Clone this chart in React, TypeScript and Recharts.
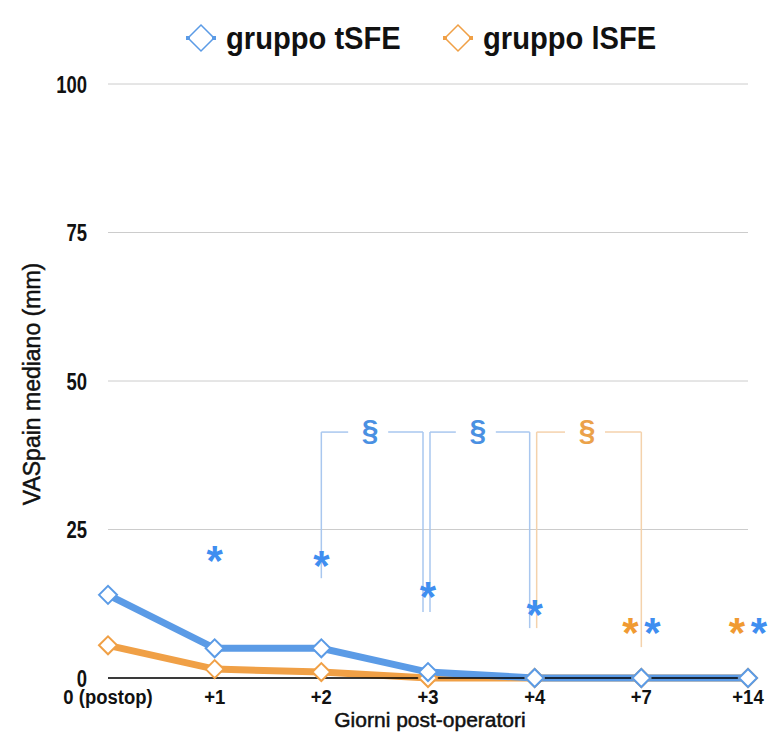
import React from 'react';
import {
  ComposedChart,
  Line,
  XAxis,
  YAxis,
  CartesianGrid,
  Legend,
  ReferenceLine,
  ReferenceDot,
} from 'recharts';

// Giorni post-operatori (categorie asse x)
const days = ['0 (postop)', '+1', '+2', '+3', '+4', '+7', '+14'];

// VAS mediano (mm) per gruppo
const tSFE = [14, 5, 5, 1, 0, 0, 0];
const lSFE = [5.5, 1.5, 1, 0, 0, 0, 0];

// altezza degli asterischi (significatività vs postop)
const tSFEStars = [null, 20.7, 19.9, 14.6, 11.6, 8.6, 8.6];
const lSFEStars = [null, null, null, null, null, 8.6, 8.6];

// parentesi § tra giorni consecutivi
const brackets = [
  { from: '+2', to: '+3', level: 41.4, fromEnd: 16.8, toEnd: 11.1, group: 't' },
  { from: '+3', to: '+4', level: 41.4, fromEnd: 11.1, toEnd: 8.4, group: 't' },
  { from: '+4', to: '+7', level: 41.4, fromEnd: 8.4, toEnd: 5.2, group: 'l' },
];

const yTicks = [0, 25, 50, 75, 100];

const data = days.map((day, i) => ({ day, tSFE: tSFE[i], lSFE: lSFE[i] }));

const SANS = "'Liberation Sans', Arial, sans-serif";

const BLUE = '#5b9be6';
const ORANGE = '#f0a046';
const BLUE_STAR = '#3f8ef0';
const ORANGE_STAR = '#f09a32';
const BLUE_SEC = '#4a90e2';
const ORANGE_SEC = '#eba24a';
const BLUE_BRK = '#a9c7ef';
const ORANGE_BRK = '#f4d2ac';

const Diamond = (color: string) => (props: any) => {
  const { cx, cy, index } = props;
  if (cx == null || cy == null) return <g key={index} />;
  const r = 9;
  return (
    <path
      key={index}
      d={`M${cx - r},${cy} L${cx},${cy - r} L${cx + r},${cy} L${cx},${cy + r} Z`}
      fill="#fff"
      stroke={color}
      strokeWidth={2}
    />
  );
};

// legenda: icona a rombo + testo condensato
const legendItems = [
  { name: 'gruppo tSFE', color: BLUE, x: 201 },
  { name: 'gruppo lSFE', color: ORANGE, x: 458 },
];

const renderLegend = () => (
  <svg width={748} height={74} style={{ display: 'block' }}>
    {legendItems.map((it) => (
      <g key={it.name}>
        <path
          d={`M${it.x - 13},28 L${it.x},15 L${it.x + 13},28 L${it.x},41 Z`}
          fill="#fff"
          stroke={it.color}
          strokeWidth={1.5}
        />
        <rect x={it.x - 15} y={26} width={4} height={4} fill={it.color} />
        <rect x={it.x + 11} y={26} width={4} height={4} fill={it.color} />
        <text
          transform={`translate(${it.x + 25},39) scale(0.94,1)`}
          fontFamily={SANS}
          fontWeight="bold"
          fontSize={31}
          fill="#111"
        >
          {it.name}
        </text>
      </g>
    ))}
  </svg>
);

const YTick = (props: any) => {
  const { x, y, payload } = props;
  return (
    <text
      transform={`translate(${x},${y}) scale(0.77,1)`}
      textAnchor="end"
      dy="0.36em"
      fontFamily={SANS}
      fontWeight="bold"
      fontSize={24}
      fill="#111"
    >
      {payload.value}
    </text>
  );
};

const XTick = (props: any) => {
  const { x, y, payload } = props;
  return (
    <text
      transform={`translate(${x},${y}) scale(0.88,1)`}
      textAnchor="middle"
      dy="0.71em"
      fontFamily={SANS}
      fontWeight="bold"
      fontSize={21}
      fill="#111"
    >
      {payload.value}
    </text>
  );
};

const seg = (dx1: number, dx2: number, color: string) => (p: any) => (
  <line x1={p.x1 + dx1} y1={p.y1} x2={p.x2 + dx2} y2={p.y2} stroke={color} strokeWidth={1.5} />
);

const bracketTop = (dx1: number, dx2: number, color: string, textColor: string) => (p: any) => {
  const a = p.x1 + dx1;
  const b = p.x2 + dx2;
  const mid = (a + b) / 2 - 2;
  return (
    <g>
      <line x1={a} y1={p.y1} x2={mid - 22} y2={p.y2} stroke={color} strokeWidth={1.5} />
      <line x1={mid + 18} y1={p.y1} x2={b} y2={p.y2} stroke={color} strokeWidth={1.5} />
      <text
        x={mid}
        y={p.y1 + 8}
        textAnchor="middle"
        fontFamily={SANS}
        fontWeight="bold"
        fontSize={30}
        fill={textColor}
      >
        §
      </text>
    </g>
  );
};

const star = (dx: number, color: string) => (p: any) => (
  <text
    x={p.cx + dx}
    y={p.cy + 20}
    textAnchor="middle"
    fontFamily={SANS}
    fontWeight="bold"
    fontSize={42}
    fill={color}
  >
    *
  </text>
);

export default function App() {
  return (
    <div style={{ position: 'absolute', left: 0, top: 0, background: '#fff' }}>
      <ComposedChart width={768} height={754} data={data} margin={{ top: 10, right: 20, bottom: 0, left: 0 }}>
        <Legend verticalAlign="top" content={renderLegend} wrapperStyle={{ height: 74 }} />
        <CartesianGrid vertical={false} stroke="#cccccc" strokeWidth={1} />
        <XAxis
          dataKey="day"
          scale="point"
          padding={{ left: 0, right: 0 }}
          height={76}
          tickLine={false}
          tickMargin={5}
          axisLine={{ stroke: '#000', strokeWidth: 1.5 }}
          tick={<XTick />}
          label={{
            content: (props: any) => {
              const vb = props.viewBox;
              return (
                <text
                  x={vb.x + vb.width / 2 + 2}
                  y={vb.y + 49}
                  textAnchor="middle"
                  fontFamily={SANS}
                  fontSize={21}
                  fill="#111"
                  stroke="#111"
                  strokeWidth={0.5}
                >
                  Giorni post-operatori
                </text>
              );
            },
          }}
        />
        <YAxis
          domain={[0, 100]}
          ticks={yTicks}
          width={108}
          axisLine={false}
          tickLine={false}
          tickMargin={15}
          tick={<YTick />}
          label={{
            content: (props: any) => {
              const vb = props.viewBox;
              const cx = 40;
              const cy = vb.y + vb.height / 2 + 3;
              return (
                <text
                  x={cx}
                  y={cy}
                  transform={`rotate(-90 ${cx} ${cy})`}
                  textAnchor="middle"
                  fontFamily={SANS}
                  fontSize={23}
                  fill="#111"
                  stroke="#111"
                  strokeWidth={0.5}
                >
                  VASpain mediano (mm)
                </text>
              );
            },
          }}
        />

        {brackets.map((b, i) => {
          const isT = b.group === 't';
          const line = isT ? BLUE_BRK : ORANGE_BRK;
          const txt = isT ? BLUE_SEC : ORANGE_SEC;
          const dxFrom = i > 0 && brackets[i - 1].to === b.from ? 2 : 0;
          const dxTo = i < brackets.length - 1 && brackets[i + 1].from === b.to ? -5 : 0;
          return (
            <React.Fragment key={`br-${i}`}>
              <ReferenceLine
                segment={[{ x: b.from, y: b.level }, { x: b.from, y: b.fromEnd }]}
                shape={seg(dxFrom, dxFrom, line)}
              />
              <ReferenceLine
                segment={[{ x: b.to, y: b.level }, { x: b.to, y: b.toEnd }]}
                shape={seg(dxTo, dxTo, line)}
              />
              <ReferenceLine
                segment={[{ x: b.from, y: b.level }, { x: b.to, y: b.level }]}
                shape={bracketTop(dxFrom, dxTo, line, txt)}
              />
            </React.Fragment>
          );
        })}

        <Line
          dataKey="lSFE"
          name="gruppo lSFE"
          stroke={ORANGE}
          strokeWidth={7}
          dot={Diamond(ORANGE)}
          activeDot={false}
          isAnimationActive={false}
        />
        <Line
          dataKey="tSFE"
          name="gruppo tSFE"
          stroke={BLUE}
          strokeWidth={7}
          dot={Diamond(BLUE)}
          activeDot={false}
          isAnimationActive={false}
        />

        {days.map((d, i) =>
          tSFEStars[i] != null ? (
            <ReferenceDot
              key={`ts-${d}`}
              x={d}
              y={tSFEStars[i] as number}
              shape={star(lSFEStars[i] != null ? 11 : 0, BLUE_STAR)}
            />
          ) : null
        )}
        {days.map((d, i) =>
          lSFEStars[i] != null ? (
            <ReferenceDot key={`ls-${d}`} x={d} y={lSFEStars[i] as number} shape={star(-11, ORANGE_STAR)} />
          ) : null
        )}
      </ComposedChart>
    </div>
  );
}
